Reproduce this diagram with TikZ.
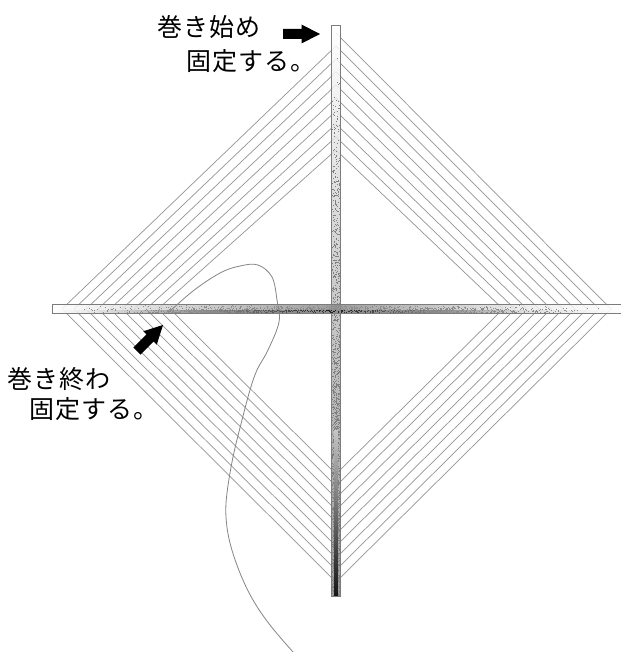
\documentclass[tikz,border=0pt]{standalone}
\usepackage{fontspec}
\newfontfamily\jpfont[LetterSpace=4]{Noto Sans CJK JP}
\definecolor{threadgray}{HTML}{858585}
\definecolor{wrapgray}{HTML}{949494}
\definecolor{stickgray}{HTML}{7C7C7C}
\tikzset{
  wrapline/.style={wrapgray, line width=0.7pt, line join=miter},
  stickframe/.style={stickgray, line width=1pt},
  marklabel/.style={font=\jpfont\fontsize{25}{25}\selectfont, inner sep=0pt, anchor=west},
  markarrow/.pic={
    \fill[black] (-18.5,-5) -- (0,-5) -- (0,-9.5) -- (18.5,0) -- (0,9.5) -- (0,5) -- (-18.5,5) -- cycle;
  }
}
\begin{document}
\begin{tikzpicture}[x=1pt,y=-1pt]
  \useasboundingbox (0,0) rectangle (621,652);
  \fill[white] (0,0) rectangle (621,652);

  % Wrapped turns
  \foreach \i in {0,...,9} {
    \pgfmathsetmacro{\ytop}{33+13*\i}
    \pgfmathsetmacro{\xright}{611-12*\i}
    \pgfmathsetmacro{\ybot}{582-12*\i}
    \pgfmathsetmacro{\xleft}{62+12*\i}
    \draw[wrapline] (336,\ytop) -- (\xright,309) -- (336,\ybot) -- (\xleft,309);
  }
  \foreach \i in {0,...,8} {
    \pgfmathsetmacro{\xleft}{62+12*\i}
    \pgfmathsetmacro{\ynext}{46+13*\i}
    \draw[wrapline] (\xleft,309) -- (336,\ynext);
  }

  % Vertical stick
  \foreach \ya/\yb/\ca/\cb in {
    26/120/white/black!8,
    120/304/black!8/black!25,
    304/450/black!25/black!35,
    450/596/black!35/black!45} {
    \shade[opacity=0.85, top color=\ca, bottom color=\cb] (331.5,\ya) rectangle (340.5,\yb);
  }
  \pgfmathsetseed{7}
  \foreach \n in {1,...,1500} {
    \pgfmathsetmacro{\px}{332+8*rnd}
    \pgfmathsetmacro{\py}{50+545*sqrt(rnd)}
    \fill[black!50] (\px,\py) rectangle +(0.9,0.9);
  }
  \shade[top color=black!20, bottom color=black, opacity=0.85] (334.2,430) rectangle (337.8,596);
  \draw[stickframe] (331.5,25.5) rectangle (340.5,596);

  % Horizontal stick
  \foreach \xa/\xb/\ca/\cb in {
    52/110/white/black!8,
    110/336/black!8/black!45,
    336/520/black!45/black!8,
    520/621/black!8/white} {
    \shade[opacity=0.85, left color=\ca, right color=\cb] (\xa,304.5) rectangle (\xb,310);
  }
  \foreach \xa/\xb/\ca/\cb in {
    52/110/white/black!15,
    110/336/black!15/black!95,
    336/520/black!95/black!15,
    520/621/black!15/white} {
    \shade[opacity=0.9, left color=\ca, right color=\cb] (\xa,310) rectangle (\xb,313.5);
  }
  \foreach \n in {1,...,1500} {
    \pgfmathsetmacro{\px}{336+265*(rnd+rnd-1)}
    \pgfmathsetmacro{\py}{305+7.6*sqrt(rnd)}
    \fill[black!45] (\px,\py) rectangle +(0.9,0.9);
  }
  \draw[stickframe] (621,304.5) -- (52.5,304.5) -- (52.5,313.5) -- (621,313.5);

  % Loose end of the thread
  \draw[threadgray, line width=0.8pt] plot[smooth, tension=0.6] coordinates {
    (168,313) (193,291) (220,273) (240,266) (258,265) (272,277) (277,300) (279,322)
    (268,350) (257,370) (250,390) (242,420) (233,457) (227,493) (226,517) (230,543)
    (240,573) (253,600) (270,625) (293,652)
  };

  % Labels
  \node[marklabel] (startone) at (157,27) {巻き始め};
  \node[marklabel] (starttwo) at (186,61) {固定する。};
  \node[marklabel] (endone) at (7,379) {巻き終わ};
  \node[marklabel] (endtwo) at (29,409) {固定する。};

  % Arrows
  \pic (startarrow) at (301.5,34) {markarrow};
  \pic[rotate=45] (endarrow) at (150,338) {markarrow};
\end{tikzpicture}
\end{document}
